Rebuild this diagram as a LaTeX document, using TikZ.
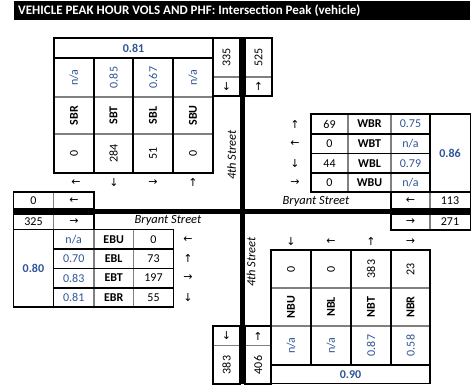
\documentclass[tikz,border=0pt]{standalone}
\usepackage{fontspec}
\setmainfont{Carlito}
\newfontfamily\arrowfont{DejaVu Sans}
\usetikzlibrary{positioning}
\definecolor{phfblue}{RGB}{47,85,151}
\definecolor{gridgray}{RGB}{128,128,128}
\tikzset{
    outer/.style={line width=1.6pt},
    inner/.style={gridgray, line width=1.2pt},
    road/.style={line width=5pt}
}
\begin{document}
\begin{tikzpicture}[x=1pt,y=-1pt,
                    every node/.style={inner sep=0pt},
                    vol/.style={font=\fontsize{12}{14}\selectfont},
                    mov/.style={font=\fontsize{12}{14}\selectfont\bfseries},
                    phf/.style={font=\fontsize{12}{14}\selectfont, text=phfblue},
                    tot/.style={font=\fontsize{12}{14}\selectfont\bfseries, text=phfblue},
                    arr/.style={font=\arrowfont\fontsize{11}{13}\selectfont},
                    street/.style={font=\fontsize{12.5}{14}\selectfont\itshape}
                    ]
  \useasboundingbox (0,0) rectangle (474,391);
  % title bar
  \fill (14,1) rectangle (470,20);
  \node (title) at (18,10.5) [anchor=west, text=white, font=\fontsize{13}{15}\selectfont\bfseries]
       {VEHICLE PEAK HOUR VOLS AND PHF: Intersection Peak (vehicle)};

  % southbound
  \draw[inner] (54,97) -- (213,97) (54,134) -- (213,134);
  \draw[outer] (54,38) rectangle (213,173);
  \draw[outer] (54,58) -- (213,58) (94,58) -- (94,173) (133,58) -- (133,173) (173,58) -- (173,173);
  \node[tot] (sbphf) at (133.5,48) {0.81};
  \node[phf] (sbrp) at (74,77.5)  [rotate=90] {n/a};
  \node[phf] (sbtp) at (113.5,77.5) [rotate=90] {0.85};
  \node[phf] (sblp) at (153,77.5) [rotate=90] {0.67};
  \node[phf] (sbup) at (193,77.5) [rotate=90] {n/a};
  \node[mov] (sbr) at (74,115.5)  [rotate=90] {SBR};
  \node[mov] (sbt) at (113.5,115.5) [rotate=90] {SBT};
  \node[mov] (sbl) at (153,115.5) [rotate=90] {SBL};
  \node[mov] (sbu) at (193,115.5) [rotate=90] {SBU};
  \node[vol] (sbrv) at (74,153.5)  [rotate=90] {0};
  \node[vol] (sbtv) at (113.5,153.5) [rotate=90] {284};
  \node[vol] (sblv) at (153,153.5) [rotate=90] {51};
  \node[vol] (sbuv) at (193,153.5) [rotate=90] {0};
  \node[arr] (sbra) at (76,182.7)  {←};
  \node[arr] (sbta) at (114,182.7) {↓};
  \node[arr] (sbla) at (153,182.7) {→};
  \node[arr] (sbua) at (193,182.7) {↑};

  % north leg totals
  \draw[inner] (213,77) -- (240,77) (245,77) -- (272,77);
  \draw[outer] (213,38) rectangle (240,96) (245,38) rectangle (272,96);
  \node[vol] (nin) at (226.5,57.5) [rotate=90] {335};
  \node[arr] (nina) at (226.5,86.5) {↓};
  \node[vol] (nout) at (258.5,57.5) [rotate=90] {525};
  \node[arr] (nouta) at (258.5,86.5) {↑};

  % westbound
  \draw[inner] (348,114) -- (348,192) (391,114) -- (391,192);
  \draw[outer] (311,114) rectangle (470.5,192);
  \draw[outer] (311,134) -- (430,134) (311,153.5) -- (430,153.5) (311,173) -- (430,173) (430,114) -- (430,192);
  \node[tot] (wbphf) at (450,153) {0.86};
  \node[vol] (wbrv) at (329.5,124)   {69};
  \node[vol] (wbtv) at (329.5,143.8) {0};
  \node[vol] (wblv) at (329.5,163.2) {44};
  \node[vol] (wbuv) at (329.5,182.5) {0};
  \node[mov] (wbr) at (369.5,124)   {WBR};
  \node[mov] (wbt) at (369.5,143.8) {WBT};
  \node[mov] (wbl) at (369.5,163.2) {WBL};
  \node[mov] (wbu) at (369.5,182.5) {WBU};
  \node[phf] (wbrp) at (410.5,124)   {0.75};
  \node[phf] (wbtp) at (410.5,143.8) {n/a};
  \node[phf] (wblp) at (410.5,163.2) {0.79};
  \node[phf] (wbup) at (410.5,182.5) {n/a};
  \node[arr] (wbra) at (295,124)   {↑};
  \node[arr] (wbta) at (295,143.8) {←};
  \node[arr] (wbla) at (295,163.2) {↓};
  \node[arr] (wbua) at (295,182.5) {→};

  % east leg totals
  \draw[inner] (430,192) -- (430,209) (430,214) -- (430,230);
  \draw[outer] (391,192) rectangle (470.5,209) (391,214) rectangle (470.5,230);
  \node[arr] (ein) at (410.5,200.5) {←};
  \node[vol] (einv) at (450,200.5) {113};
  \node[arr] (eout) at (410.5,222) {→};
  \node[vol] (eoutv) at (450,222) {271};

  % west leg totals
  \draw[inner] (53.5,192) -- (53.5,209) (53.5,214) -- (53.5,229.3);
  \draw[outer] (13.3,192) rectangle (94,209) (13.3,214) rectangle (94,229.3);
  \node[vol] (woutv) at (33.5,200.5) {0};
  \node[arr] (wout) at (74,200.5) {←};
  \node[vol] (winv) at (33.5,221.5) {325};
  \node[arr] (win) at (74,221.5) {→};

  % eastbound
  \draw[inner] (94,229.3) -- (94,306.7) (133.5,229.3) -- (133.5,306.7);
  \draw[outer] (13.3,229.3) rectangle (173.5,306.7);
  \draw[outer] (53.5,229.3) -- (53.5,306.7) (53.5,249) -- (173.5,249) (53.5,268.3) -- (173.5,268.3) (53.5,287.7) -- (173.5,287.7);
  \node[tot] (ebphf) at (33.4,268) {0.80};
  \node[phf] (ebup) at (73.7,239.2) {n/a};
  \node[phf] (eblp) at (73.7,258.7) {0.70};
  \node[phf] (ebtp) at (73.7,278)   {0.83};
  \node[phf] (ebrp) at (73.7,297.2) {0.81};
  \node[mov] (ebu) at (113.7,239.2) {EBU};
  \node[mov] (ebl) at (113.7,258.7) {EBL};
  \node[mov] (ebt) at (113.7,278)   {EBT};
  \node[mov] (ebr) at (113.7,297.2) {EBR};
  \node[vol] (ebuv) at (153.5,239.2) {0};
  \node[vol] (eblv) at (153.5,258.7) {73};
  \node[vol] (ebtv) at (153.5,278)   {197};
  \node[vol] (ebrv) at (153.5,297.2) {55};
  \node[arr] (ebua) at (188,239.2) {←};
  \node[arr] (ebla) at (188,258.7) {↑};
  \node[arr] (ebta) at (188,278)   {→};
  \node[arr] (ebra) at (188,297.2) {↓};

  % south leg totals
  \draw[inner] (213,345.7) -- (240,345.7) (245,345.7) -- (271,345.7);
  \draw[outer] (213,326) rectangle (240,384) (245,326) rectangle (271,384);
  \node[arr] (souta) at (226.5,336) {↓};
  \node[vol] (sout) at (226.5,365) [rotate=90] {383};
  \node[arr] (sina) at (258,336) {↑};
  \node[vol] (sin) at (258,365) [rotate=90] {406};

  % northbound
  \draw[inner] (271,288) -- (430,288) (271,326) -- (430,326);
  \draw[outer] (271,250) rectangle (430,383.5);
  \draw[outer] (311,250) -- (311,365) (351,250) -- (351,365) (391,250) -- (391,365) (271,365) -- (430,365);
  \node[tot] (nbphf) at (350.5,374.2) {0.90};
  \node[vol] (nbuv) at (291,269)   [rotate=90] {0};
  \node[vol] (nblv) at (331,269)   [rotate=90] {0};
  \node[vol] (nbtv) at (371,269)   [rotate=90] {383};
  \node[vol] (nbrv) at (410.5,269) [rotate=90] {23};
  \node[mov] (nbu) at (291,307)   [rotate=90] {NBU};
  \node[mov] (nbl) at (331,307)   [rotate=90] {NBL};
  \node[mov] (nbt) at (371,307)   [rotate=90] {NBT};
  \node[mov] (nbr) at (410.5,307) [rotate=90] {NBR};
  \node[phf] (nbup) at (291,345.5)   [rotate=90] {n/a};
  \node[phf] (nblp) at (331,345.5)   [rotate=90] {n/a};
  \node[phf] (nbtp) at (371,345.5)   [rotate=90] {0.87};
  \node[phf] (nbrp) at (410.5,345.5) [rotate=90] {0.58};
  \node[arr] (nbua) at (291,241.7)   {↓};
  \node[arr] (nbla) at (331,241.7)   {←};
  \node[arr] (nbta) at (371,241.7)   {↑};
  \node[arr] (nbra) at (410.5,241.7) {→};

  % streets
  \draw[road] (242.5,37) -- (242.5,384);
  \draw[road] (13.3,211.5) -- (470.5,211.5);
  \node[street] (fourthN) at (231.7,155) [rotate=90] {4th Street};
  \node[street] (fourthS) at (251,262) [rotate=90] {4th Street};
  \node[street] (bryantE) at (316,201) {Bryant Street};
  \node[street] (bryantW) at (168,220.5) {Bryant Street};
\end{tikzpicture}
\end{document}
